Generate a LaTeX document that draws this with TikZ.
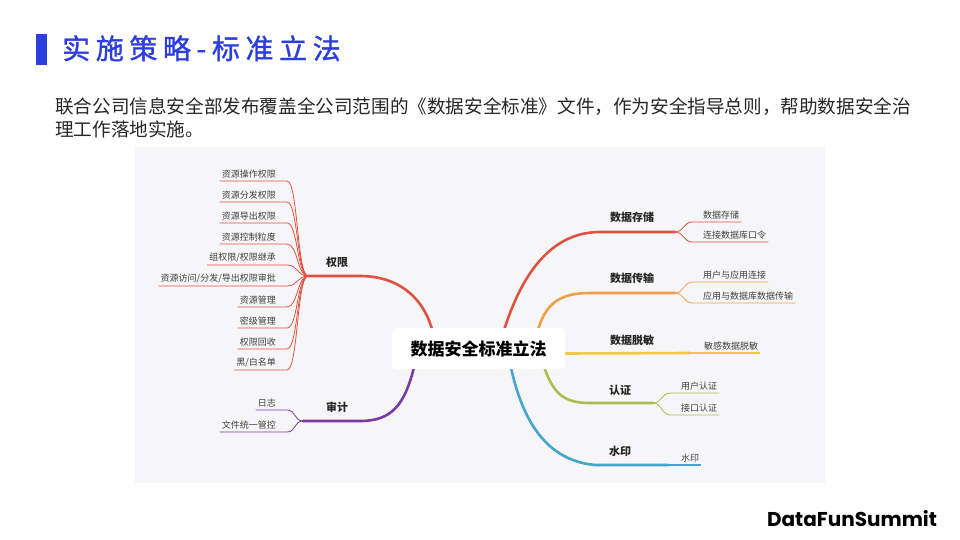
\documentclass[tikz,border=0pt]{standalone}
\usepackage{fontspec}
\setmainfont{Noto Sans CJK SC}
\newfontfamily\titlefont[LetterSpace=20,FakeBold=1.2]{Noto Sans CJK SC}
\newfontfamily\logofont{Poppins}
\usetikzlibrary{positioning}
\definecolor{titleblue}{RGB}{45,62,225}
\definecolor{panelgray}{RGB}{246,246,248}
\definecolor{qxred}{RGB}{222,82,66}
\definecolor{csorange}{RGB}{240,160,72}
\definecolor{tmyellow}{RGB}{240,200,72}
\definecolor{rzgreen}{RGB}{170,190,82}
\definecolor{syblue}{RGB}{70,165,205}
\definecolor{sjpurple}{RGB}{120,60,160}
\pgfdeclarelayer{panel}
\pgfdeclarelayer{branch}
\pgfsetlayers{panel,branch,main}

\begin{document}
\begin{tikzpicture}[
		x=1pt,y=-1pt,
		every node/.style={inner sep=0pt},
		topic/.style={font=\fontsize{11}{13}\selectfont\bfseries,text=black!85},
		leaf/.style={font=\fontsize{9}{11}\selectfont,text=black!75,inner xsep=2pt,inner ysep=3pt},
		trunk/.style={line width=2.6pt,line cap=round},
		twig/.style={line width=0.8pt}
	]
	\useasboundingbox (0,0) rectangle (960,540) ;
	\begin{pgfonlayer}{panel}
		\fill [panelgray] (135,147) rectangle (825,483) ;
	\end{pgfonlayer}

	\fill [titleblue] (36,34) rectangle (47,65) ;
	\node [anchor=base west,font=\titlefont\fontsize{28}{32}\selectfont,text=titleblue] (title) at (62,59) {实施策略-标准立法} ;
	\node [anchor=base west,font=\fontsize{18.6}{23}\selectfont,text=black!85] (intro1) at (55,114) {联合公司信息安全部发布覆盖全公司范围的《数据安全标准》文件，作为安全指导总则，帮助数据安全治} ;
	\node [below=23pt of intro1.base west,anchor=base west,font=\fontsize{18.6}{23}\selectfont,text=black!85] (intro2) {理工作落地实施。} ;

	\node [fill=white,rounded corners=4pt,minimum width=173pt,minimum height=41pt,font=\fontsize{17}{20}\selectfont\bfseries] (root) at (478.5,348.5) {数据安全标准立法} ;

	\node [topic] (quanxian) at (337,262) {权限} ;
	\node [topic] (shenji)   at (337,407) {审计} ;
	\node [topic] (cunchu)   at (632,217) {数据存储} ;
	\node [topic] (chuanshu) at (632,278) {数据传输} ;
	\node [topic] (tuomin)   at (632,340) {数据脱敏} ;
	\node [topic] (renzheng) at (620,390) {认证} ;
	\node [topic] (shuiyin)  at (620,451) {水印} ;

	\coordinate (qxhub) at (308,276) ;
	\coordinate (sjhub) at (303,421) ;
	\coordinate (cchub) at (675,232) ;
	\coordinate (cshub) at (675,293) ;
	\coordinate (tmhub) at (690,353) ;
	\coordinate (rzhub) at (653,403) ;
	\coordinate (syhub) at (668,465) ;

	\begin{pgfonlayer}{branch}
		\draw [trunk,qxred]    ([xshift=41pt,yshift=-5pt]root.north west) .. controls (426,302) and (402,276) .. (360,276) -- (qxhub) ;
		\draw [trunk,sjpurple] ([xshift=23pt,yshift=5pt]root.south west) .. controls (405,405) and (392,421) .. (360,421) -- (sjhub) ;
		\draw [trunk,qxred]    ([xshift=-62pt,yshift=-5pt]root.north east) .. controls (518,285) and (545,232) .. (600,232) -- (cchub) ;
		\draw [trunk,csorange] ([xshift=-28pt,yshift=-5pt]root.north east) .. controls (545,303) and (560,293) .. (590,293) -- (cshub) ;
		\draw [trunk,tmyellow] ([yshift=-5pt]root.east) -- (tmhub) ;
		\draw [trunk,rzgreen]  ([xshift=-22pt,yshift=5pt]root.south east) .. controls (553,395) and (565,403) .. (590,403) -- (rzhub) ;
		\draw [trunk,syblue]   ([xshift=-55pt,yshift=5pt]root.south east) .. controls (520,410) and (540,460) .. (595,465) -- (syhub) ;
	\end{pgfonlayer}

	\foreach \y/\txt [count=\i] in {181/资源操作权限,202/资源分发权限,223/资源导出权限,244/资源控制粒度,265/{组权限/权限继承},286/{资源访问/分发/导出权限审批},307/资源管理,328/密级管理,349/权限回收,370/{黑/白名单}} {
		\node [leaf,anchor=south east] (qx\i) at (278,\y) {\txt} ;
		\draw [twig,qxred] (qxhub) .. controls (297,276) and (298,\y) .. (287,\y) -- (qx\i.south west) ;
	}

	\foreach \y/\txt [count=\i] in {410/日志,432/文件统一管控} {
		\node [leaf,anchor=south east] (sj\i) at (278,\y) {\txt} ;
		\draw [twig,sjpurple] (sjhub) .. controls (294,421) and (296,\y) .. (287,\y) -- (sj\i.south west) ;
	}

	\foreach \y/\txt [count=\i] in {222/数据存储,242/连接数据库口令} {
		\node [leaf,anchor=south west] (cc\i) at (701,\y) {\txt} ;
		\draw [twig,qxred] (cchub) .. controls (684,232) and (683,\y) .. (693,\y) -- (cc\i.south east) ;
	}

	\foreach \y/\txt [count=\i] in {282/用户与应用连接,303/应用与数据库数据传输} {
		\node [leaf,anchor=south west] (cs\i) at (701,\y) {\txt} ;
		\draw [twig,csorange] (cshub) .. controls (684,293) and (683,\y) .. (693,\y) -- (cs\i.south east) ;
	}

	\foreach \y/\txt [count=\i] in {393/用户认证,415/接口认证} {
		\node [leaf,anchor=south west] (rz\i) at (679,\y) {\txt} ;
		\draw [twig,rzgreen] (rzhub) .. controls (662,403) and (661,\y) .. (671,\y) -- (rz\i.south east) ;
	}

	\node [leaf,anchor=south west] (tm1) at (702,353) {敏感数据脱敏} ;
	\draw [twig,tmyellow,line width=1.4pt] (tmhub) -- (tm1.south east) ;
	\node [leaf,anchor=south west] (sy1) at (679,465) {水印} ;
	\draw [twig,syblue,line width=1.4pt] (syhub) -- (sy1.south east) ;

	\node [font=\logofont\bfseries\fontsize{20}{24}\selectfont] (logo) at (852,519) {DataFunSummit} ;
\end{tikzpicture}
\end{document}
